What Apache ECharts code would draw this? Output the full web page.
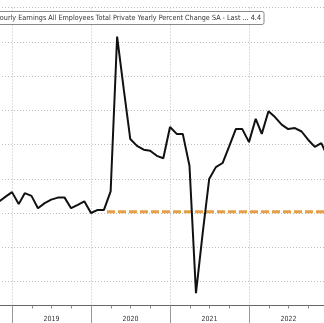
<!DOCTYPE html>
<html>
<head>
<meta charset="utf-8">
<script src="https://cdn.jsdelivr.net/npm/echarts@6/dist/echarts.min.js"></script>
<style>
html,body{margin:0;padding:0;background:#fff;overflow:hidden;width:324px;height:323px;position:relative;}
#c{position:absolute;left:-67.5px;top:0;width:474px;height:323px;}
</style>
</head>
<body>
<div id="c"></div>
<script>
// ---- data (monthly, plotted at month end) ----
var months = ['2018-10','2018-11','2018-12',
  '2019-01','2019-02','2019-03','2019-04','2019-05','2019-06','2019-07','2019-08','2019-09','2019-10','2019-11','2019-12',
  '2020-01','2020-02','2020-03','2020-04','2020-05','2020-06','2020-07','2020-08','2020-09','2020-10','2020-11','2020-12',
  '2021-01','2021-02','2021-03','2021-04','2021-05','2021-06','2021-07','2021-08','2021-09','2021-10','2021-11','2021-12',
  '2022-01','2022-02','2022-03','2022-04','2022-05','2022-06','2022-07','2022-08','2022-09','2022-10','2022-11','2022-12',
  '2023-01'];
var ahePct = [3.33,3.47,3.61,
  3.26,3.58,3.50,3.14,3.29,3.39,3.45,3.45,3.14,3.24,3.34,3.00,
  3.09,3.09,3.63,8.15,6.60,5.16,4.96,4.85,4.82,4.67,4.60,5.51,
  5.31,5.31,4.38,0.66,2.41,3.99,4.34,4.46,4.94,5.45,5.45,5.07,
  5.75,5.31,5.97,5.80,5.58,5.45,5.48,5.38,5.14,4.93,5.04,4.62,
  4.40];
var preCovidDates = ['2020-03-15','2023-12-31'];
var preCovidLevel = [3.04, 3.04];
var yearLabels = ['2018','2019','2020','2021','2022','2023'];
var seriesName = 'US Average Hourly Earnings All Employees Total Private Yearly Percent Change SA';
var lastLabel = 'Last ... 4.4';

// month-end -> fractional year
function monthEnd(ym){
  var p = ym.split('-'), y = +p[0], m = +p[1];
  var s = Date.UTC(y,0,1), e = Date.UTC(y+1,0,1);
  return y + (Date.UTC(y,m,1)-s)/(e-s);
}
function dayPos(d){
  var p = d.split('-'), y = +p[0], m = +p[1], dd = +p[2];
  var s = Date.UTC(y,0,1), e = Date.UTC(y+1,0,1);
  return y + (Date.UTC(y,m-1,dd)-s)/(e-s);
}
var lineData = months.map(function(m,i){ return [monthEnd(m), ahePct[i]]; });
var dashData = preCovidDates.map(function(d,i){ return [dayPos(d), preCovidLevel[i]]; });

var FONT = "'DejaVu Sans Condensed','Liberation Sans Narrow',sans-serif";
var chart = echarts.init(document.getElementById('c'), null, {renderer:'canvas'});
chart.setOption({
  animation:false,
  backgroundColor:'#fff',
  title:{
    text: seriesName + ' - ' + lastLabel,
    right: 143, top: 11,
    padding:[3,3,3,4],
    borderColor:'#8a8a8a', borderWidth:1, borderRadius:2,
    backgroundColor:'#fff',
    textStyle:{fontFamily:FONT, fontSize:7.2, fontWeight:'normal', color:'#333', lineHeight:8}
  },
  grid:{left:0, right:0, top:7.5, bottom:17.3, containLabel:false},
  xAxis:[{
    type:'value', min:2018, max:2024, interval:1,
    axisLine:{show:true, lineStyle:{color:'#666', width:1}},
    axisTick:{show:true, length:18, lineStyle:{color:'#999'}},
    minorTick:{show:true, splitNumber:4, length:3, lineStyle:{color:'#888'}},
    axisLabel:{show:false},
    splitLine:{show:true, lineStyle:{color:'#bdbdbd', type:[1,2], width:1}}
  },{
    type:'category', data:yearLabels, boundaryGap:true, position:'bottom',
    axisLine:{show:false}, axisTick:{show:false}, splitLine:{show:false},
    axisLabel:{show:true, margin:10.5, fontFamily:FONT, fontSize:7, color:'#333'}
  }],
  yAxis:{
    type:'value', min:0.3, max:9, splitNumber:9, position:'right',
    axisLine:{show:false}, axisTick:{show:false}, axisLabel:{show:false},
    splitLine:{show:true, lineStyle:{color:'#bdbdbd', type:[1,2], width:1}}
  },
  series:[{
    name:'Pre-pandemic level', type:'line', data:dashData, showSymbol:false, xAxisIndex:0,
    lineStyle:{color:'#E5A047', width:3, type:[8,3]}, silent:true, z:2
  },{
    name:seriesName, type:'line', data:lineData, showSymbol:false, xAxisIndex:0,
    lineStyle:{color:'#111', width:2}, silent:true, z:3
  }]
});
</script>
</body>
</html>
